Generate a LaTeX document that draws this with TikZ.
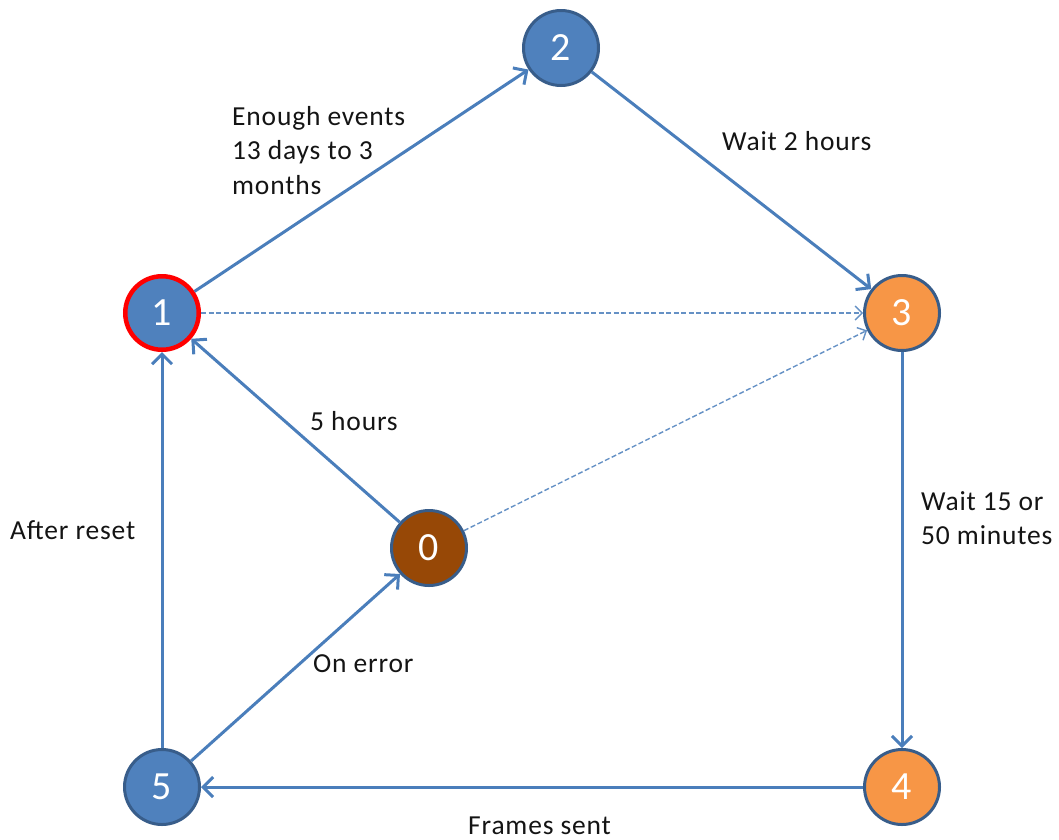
\documentclass[tikz,border=0pt]{standalone}
\usepackage{fontspec}
\setmainfont{Carlito}
\newfontfamily\lblfont[LetterSpace=3]{Carlito}
\usetikzlibrary{arrows.meta}
\definecolor{nblue}{RGB}{79,129,189}
\definecolor{nborder}{RGB}{56,93,138}
\definecolor{norange}{RGB}{247,150,70}
\definecolor{nbrown}{RGB}{151,72,6}
\definecolor{lineblue}{RGB}{74,126,187}
\definecolor{textcol}{RGB}{20,20,20}
\tikzset{
  state/.style={circle, minimum size=75pt, inner sep=0pt, line width=3pt, draw=nborder, fill=nblue,
    text=white, font=\fontsize{40}{40}\selectfont},
  orangestate/.style={state, fill=norange},
  brownstate/.style={state, fill=nbrown},
  startstate/.style={state, draw=red, line width=4.5pt, minimum size=73.5pt},
  conn/.style={line width=3pt, draw=lineblue, -{Straight Barb[length=10pt,width=20pt,line width=3pt]}},
  dconn/.style={line width=1.4pt, draw=lineblue!85, dash pattern=on 5pt off 2.5pt,
    -{Straight Barb[length=7pt,width=14pt,line width=1.4pt]}},
  lbl/.style={inner sep=0pt, text=textcol, font=\lblfont\fontsize{27.5}{34.5}\selectfont, align=left}
}
\begin{document}
\begin{tikzpicture}[x=1pt,y=-1pt]
\useasboundingbox (0,0) rectangle (1059,839);
\node[state] (n2) at (561,48) {2};
\node[startstate] (n1) at (162,313) {1};
\node[orangestate] (n3) at (902,313) {3};
\node[brownstate] (n0) at (429,548) {0};
\node[state] (n5) at (162,787) {5};
\node[orangestate] (n4) at (902,787) {4};

\draw[conn] (n1) -- (n2);
\draw[conn] (n2) -- (n3);
\draw[dconn] (n1) -- (n3);
\draw[dconn] (n0) -- (n3);
\draw[conn] (n3) -- (n4);
\draw[conn] (n4) -- (n5);
\draw[conn] (n5) -- (n1);
\draw[conn] (n5) -- (n0);
\draw[conn] (n0) -- (n1);

\node[lbl, anchor=north west] (l12) at (232,106) {Enough events\\13 days to 3\\months};
\node[lbl, anchor=base west] (l23) at (722,150) {Wait 2 hours};
\node[lbl, anchor=base west] (l01) at (310,430) {5 hours};
\node[lbl, anchor=base west] (l51) at (10,539) {After reset};
\node[lbl, anchor=base west] (l50) at (313,672) {On error};
\node[lbl, anchor=north west] (l34) at (921,491) {Wait 15 or\\50 minutes};
\node[lbl, anchor=base west] (l45) at (468,834) {Frames sent};
\end{tikzpicture}
\end{document}
